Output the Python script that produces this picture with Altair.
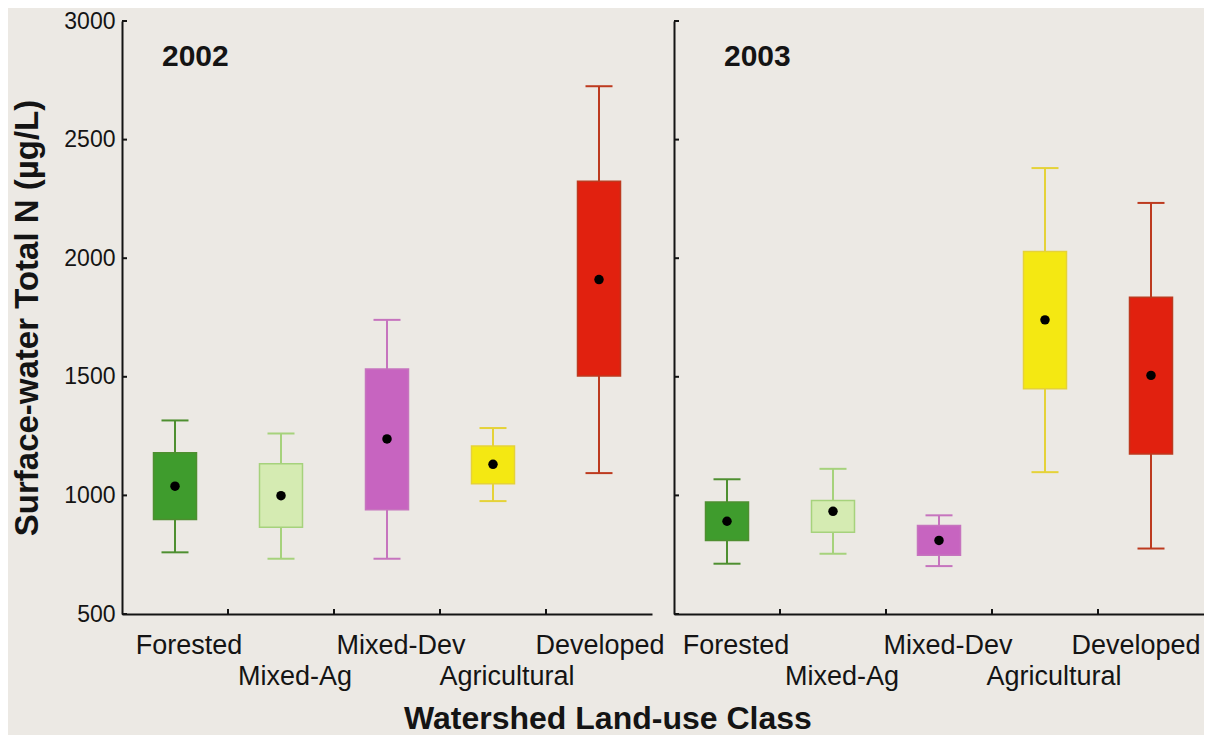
import altair as alt
import pandas as pd

cats = ["Forested", "Mixed-Ag", "Mixed-Dev", "Agricultural", "Developed"]
years = ["2002", "2003"]
y_ticks = [500, 1000, 1500, 2000, 2500, 3000]

# 2002 box-plot statistics (µg/L)
wlo_2002 = [760, 733, 733, 976, 1094]
q1_2002 = [898, 866, 940, 1049, 1503]
med_2002 = [1039, 999, 1238, 1131, 1910]
q3_2002 = [1180, 1133, 1533, 1208, 2324]
whi_2002 = [1316, 1261, 1740, 1284, 2725]

# 2003 box-plot statistics (µg/L)
wlo_2003 = [712, 754, 702, 1098, 776]
q1_2003 = [810, 845, 748, 1450, 1175]
med_2003 = [891, 933, 810, 1740, 1506]
q3_2003 = [972, 978, 873, 2028, 1835]
whi_2003 = [1068, 1112, 916, 2380, 2233]

fill_colors = ["#3f9c2d", "#d5ebb2", "#c764c0", "#f4e812", "#e1210f"]
line_colors = ["#4e8f30", "#a6d27c", "#c674be", "#e5d238", "#bd3a1f"]

W, H = 530, 593
FONT = "Liberation Sans"
INK = "#141414"


def panel(year, wlo, q1, med, q3, whi, first, year_x, lab_shift, last_shift):
    df = pd.DataFrame({"cat": cats, "wlo": wlo, "q1": q1, "med": med, "q3": q3, "whi": whi})
    xscale = alt.Scale(domain=cats, paddingInner=0, paddingOuter=0)
    xaxis = alt.Axis(
        title=None, labelAngle=0, ticks=False, tickSize=0, labelPadding=18,
        labelFontSize=27, labelColor=INK, labelFont=FONT, labelLineHeight=31,
        labelExpr="round(datum.index * 4) % 2 == 1 ? ['', datum.label] : datum.label",
        labelOffset={"condition": {"test": f"datum.label == '{cats[-1]}'", "value": last_shift},
                     "value": lab_shift},
        domainWidth=2, domainColor=INK,
    )
    if first:
        yaxis = alt.Axis(
            values=y_ticks, format="d", ticks=False, tickSize=0, labelPadding=7,
            labelFontSize=23, labelFont=FONT, labelColor=INK, grid=False,
            domainWidth=2, domainColor=INK,
            title="Surface-water Total N (µg/L)", titleFontSize=33, titleFont=FONT,
            titleFontWeight="bold", titleColor=INK, titlePadding=19,
        )
    else:
        yaxis = alt.Axis(
            values=y_ticks, ticks=False, tickSize=0, labels=False, grid=False,
            domainWidth=2, domainColor=INK, title=None,
        )
    yscale = alt.Scale(domain=[500, 3000], nice=False, zero=False)
    x = alt.X("cat:N", sort=cats, scale=xscale, axis=xaxis)

    def y(field):
        return alt.Y(field, scale=yscale, axis=yaxis)

    lcol = alt.Color("cat:N", scale=alt.Scale(domain=cats, range=line_colors), legend=None)
    base = alt.Chart(df)
    whisk = base.mark_rule(strokeWidth=2).encode(x=x, y=y("wlo:Q"), y2="whi:Q", color=lcol)
    cap_lo = base.mark_tick(thickness=2, size=27, opacity=1).encode(x=x, y=y("wlo:Q"), color=lcol)
    cap_hi = base.mark_tick(thickness=2, size=27, opacity=1).encode(x=x, y=y("whi:Q"), color=lcol)
    box = base.mark_bar(size=43, strokeWidth=1.5).encode(
        x=x, y=y("q1:Q"), y2="q3:Q",
        fill=alt.Fill("cat:N", scale=alt.Scale(domain=cats, range=fill_colors), legend=None),
        stroke=alt.Stroke("cat:N", scale=alt.Scale(domain=cats, range=line_colors), legend=None),
    )
    dot = base.mark_circle(size=90, color="black", opacity=1).encode(x=x, y=y("med:Q"))

    yt = alt.Chart(pd.DataFrame({"v": y_ticks})).mark_rule(color=INK, strokeWidth=2).encode(
        y=y("v:Q"), x=alt.value(0), x2=alt.value(5)
    )
    xt = alt.Chart(pd.DataFrame({"cat": cats[1:]})).mark_rule(color=INK, strokeWidth=2).encode(
        x=alt.X("cat:N", sort=cats, scale=xscale, axis=xaxis, bandPosition=0),
        y=alt.value(H), y2=alt.value(H - 5),
    )
    lab = alt.Chart(pd.DataFrame({"t": [year]})).mark_text(
        fontSize=30, fontWeight="bold", font=FONT, align="left", baseline="middle", color=INK
    ).encode(text="t:N", x=alt.value(year_x), y=alt.value(36))

    return alt.layer(whisk, cap_lo, cap_hi, box, dot, yt, xt, lab).properties(width=W, height=H)


left = panel(years[0], wlo_2002, q1_2002, med_2002, q3_2002, whi_2002, True, 40, 14, 1)
right = panel(years[1], wlo_2003, q1_2003, med_2003, q3_2003, whi_2003, False, 50, 9, -15)

chart = alt.hconcat(left, right, spacing=22, bounds="flush").properties(
    title=alt.TitleParams(
        "Watershed Land-use Class", orient="bottom", anchor="middle", fontSize=32,
        fontWeight="bold", font=FONT, color=INK, offset=15,
    ),
    padding={"top": 2, "left": 3, "right": 0, "bottom": 0},
).configure(background="#ece9e4").configure_view(stroke=None)

chart.save("out.html", embed_options={"renderer": "svg", "actions": False})
